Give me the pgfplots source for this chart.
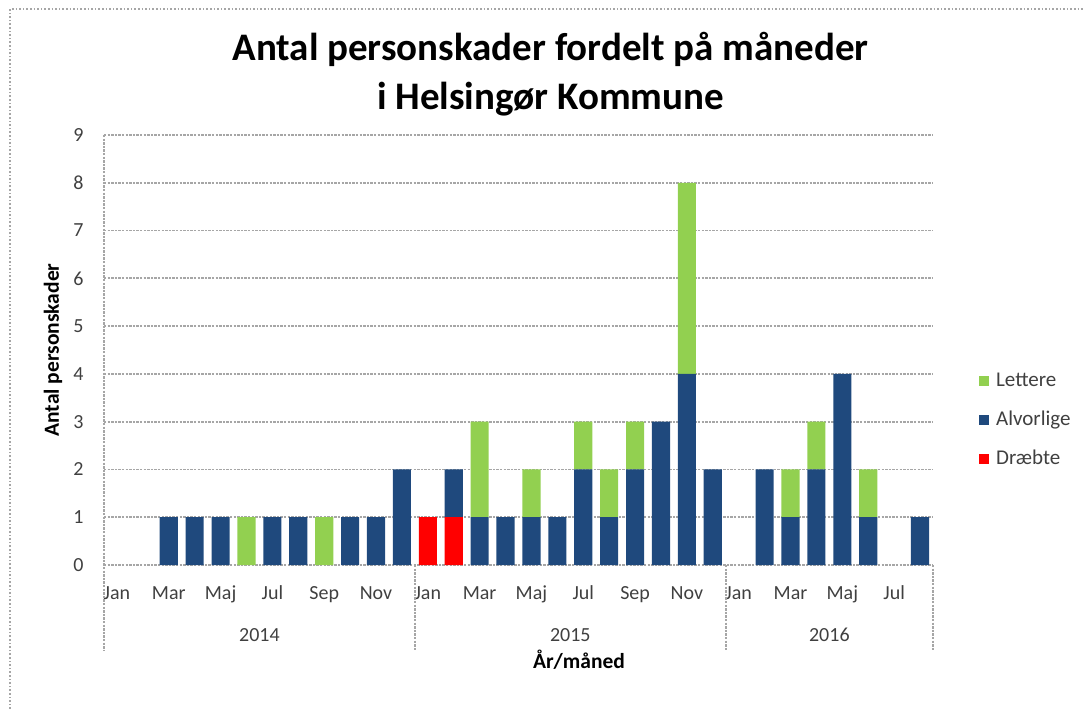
\documentclass[border=0pt]{standalone}
\usepackage{fontspec}
\setmainfont{Carlito}
\usepackage{pgfplots}
\usepackage{pgfplotstable}
\pgfplotsset{compat=1.18}
\definecolor{cBlue}{HTML}{1F497D}
\definecolor{cGreen}{HTML}{92D050}
\definecolor{cRed}{HTML}{FF0000}
\definecolor{cGrid}{HTML}{A6A6A6}
\definecolor{cText}{HTML}{404040}

% x = month index (0 = Jan 2014 ... 31 = Aug 2016)
% D = Draebte, A = Alvorlige, L = Lettere
\pgfplotstableread{
x D A L
0 0 0 0
1 0 0 0
2 0 1 0
3 0 1 0
4 0 1 0
5 0 0 1
6 0 1 0
7 0 1 0
8 0 0 1
9 0 1 0
10 0 1 0
11 0 2 0
12 1 0 0
13 1 1 0
14 0 1 2
15 0 1 0
16 0 1 1
17 0 1 0
18 0 2 1
19 0 1 1
20 0 2 1
21 0 3 0
22 0 4 4
23 0 2 0
24 0 0 0
25 0 2 0
26 0 1 1
27 0 2 1
28 0 4 0
29 0 1 1
30 0 0 0
31 0 1 0
}\data

\begin{document}
\begin{tikzpicture}
\useasboundingbox (0,0) rectangle (542pt,354.5pt);
\draw[cGrid, densely dotted, line width=0.8pt] (5pt,0) -- (5pt,350pt) -- (542pt,350pt);
\node[font=\fontsize{19.5}{23}\selectfont\bfseries, anchor=base] at (275.25pt,324.25pt) {Antal personskader fordelt på måneder};
\node[font=\fontsize{19.5}{23}\selectfont\bfseries, anchor=base] at (275.25pt,300pt) {i Helsingør Kommune};
\node[font=\fontsize{10.75}{12}\selectfont\bfseries, anchor=base] at (289.5pt,20.5pt) {År/måned};

\begin{axis}[
  at={(52pt,72pt)}, anchor=south west,
  scale only axis, width=414.5pt, height=215pt,
  xmin=-0.5, xmax=31.5, ymin=0, ymax=9,
  ybar stacked, bar width=0.7,
  clip=false,
  axis line style={draw=none},
  major tick length=0pt,
  ymajorgrids,
  grid style={cGrid, dash pattern=on 1.2pt off 0.6pt, line width=0.9pt},
  ytick={0,1,...,9},
  xtick={0,2,...,30},
  xticklabels={Jan,Mar,Maj,Jul,Sep,Nov,Jan,Mar,Maj,Jul,Sep,Nov,Jan,Mar,Maj,Jul},
  /pgf/number format/assume math mode=true,
  xticklabel style={font=\fontsize{10}{12}\selectfont, text=cText, anchor=base, inner sep=0pt, yshift=-17pt},
  yticklabel style={font=\fontsize{10}{12}\selectfont, text=cText, anchor=east, inner sep=0pt, xshift=-10pt},
  reverse legend,
  legend cell align=left,
  legend image code/.code={\fill[#1] (0pt,-2.3pt) rectangle (4.6pt,2.3pt);},
  legend style={at={(1.0555,0.337)}, anchor=west, draw=none, fill=none,
    font=\fontsize{10.5}{12}\selectfont, text=cText, inner sep=0pt,
    row sep=9.5pt,
    nodes={inner sep=0pt, anchor=west, text height=7.5pt, text depth=2.5pt},
    /tikz/every odd column/.append style={column sep=3.75pt}},
]
\addplot+[draw=none, fill=cRed] table[x=x, y=D] {\data};
\addlegendentry{Dræbte}
\addplot+[draw=none, fill=cBlue] table[x=x, y=A] {\data};
\addlegendentry{Alvorlige}
\addplot+[draw=none, fill=cGreen] table[x=x, y=L] {\data};
\addlegendentry{Lettere}

\draw[cGrid, dash pattern=on 1.2pt off 0.6pt, line width=0.9pt] (axis cs:-0.5,9) -- (axis cs:-0.5,0) -- ([yshift=-42.5pt]axis cs:-0.5,0);
\draw[cGrid, dash pattern=on 1.2pt off 0.6pt, line width=0.9pt] (axis cs:11.5,0) -- ([yshift=-42.5pt]axis cs:11.5,0);
\draw[cGrid, dash pattern=on 1.2pt off 0.6pt, line width=0.9pt] (axis cs:23.5,0) -- ([yshift=-42.5pt]axis cs:23.5,0);
\draw[cGrid, dash pattern=on 1.2pt off 0.6pt, line width=0.9pt] (axis cs:31.5,0) -- ([yshift=-42.5pt]axis cs:31.5,0);
\node[font=\fontsize{10}{12}\selectfont, text=cText, anchor=base, inner sep=0pt] at ([yshift=-38.25pt]axis cs:5.5,0) {2014};
\node[font=\fontsize{10}{12}\selectfont, text=cText, anchor=base, inner sep=0pt] at ([yshift=-38.25pt]axis cs:17.5,0) {2015};
\node[font=\fontsize{10}{12}\selectfont, text=cText, anchor=base, inner sep=0pt] at ([yshift=-38.25pt]axis cs:27.5,0) {2016};
\node[font=\fontsize{10.75}{12}\selectfont\bfseries, rotate=90, anchor=center] at ([xshift=-25.5pt]axis description cs:0,0.5) {Antal personskader};
\end{axis}
\end{tikzpicture}
\end{document}
